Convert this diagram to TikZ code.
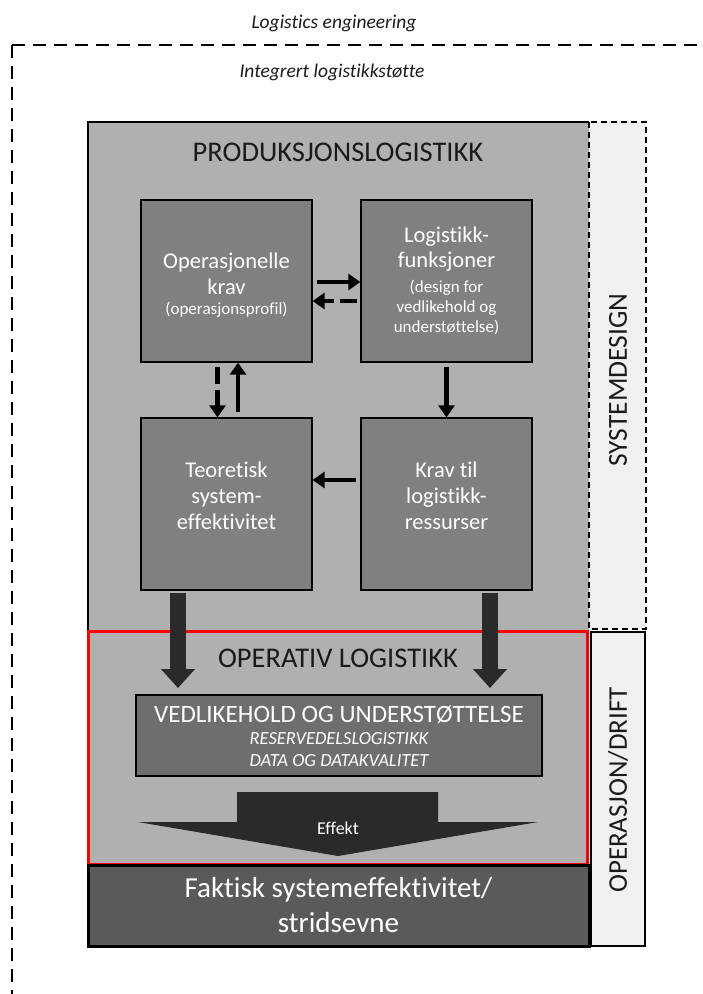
\documentclass[tikz,border=0pt]{standalone}
\usepackage{fontspec}
\setmainfont{Carlito}[Ligatures=CommonOff]
\usetikzlibrary{arrows.meta}
\definecolor{maingray}{HTML}{B0B0B0}
\definecolor{boxgray}{HTML}{808080}
\definecolor{vedgray}{HTML}{6E6E6E}
\definecolor{darkarr}{HTML}{2A2A2A}
\definecolor{faktgray}{HTML}{5A5A5A}
\definecolor{colgray}{HTML}{F0F0F0}
\definecolor{txtdark}{HTML}{1A1A1A}
\tikzset{
  inbox/.style={draw=black, line width=1.3pt, fill=boxgray,
    minimum width=171pt, inner sep=0pt},
  intext/.style={text=white, align=center, inner sep=0pt,
    font=\fontsize{22.5}{25.5}\selectfont},
  smalltext/.style={text=white, align=center, inner sep=0pt,
    font=\fontsize{17}{20}\selectfont},
  arr/.style={line width=4.5pt, -{Triangle[length=12pt,width=16pt]}},
  darr/.style={arr, dash pattern=on 17pt off 6pt},
  bigarr/.style={draw=darkarr, line width=16pt, -{Triangle[length=19pt,width=33pt]}},
  outerdash/.style={line width=1.6pt, dash pattern=on 13pt off 8pt},
}
\begin{document}
\begin{tikzpicture}[x=1pt,y=-1pt]
\useasboundingbox (0,0) rectangle (702,994);
% outer dashed frame
\draw[outerdash] (12,45) -- (702,45);
\draw[outerdash] (12,45) -- (12,994);
\node[font=\fontsize{19.5}{22}\selectfont\itshape, text=txtdark] (le) at (334,23) {Logistics engineering};
\node[font=\fontsize{19.5}{22}\selectfont\itshape, text=txtdark] (ils) at (332,72) {Integrert logistikkstøtte};
% main box
\fill[maingray] (88,122) rectangle (589,631);
\draw[line width=1.5pt] (589,122) -- (88,122) -- (88,631);
% systemdesign column
\draw[line width=1.3pt, dash pattern=on 6pt off 4pt, fill=colgray] (589,122) rectangle (646,629);
\node[rotate=90, font=\fontsize{27.5}{29}\selectfont, text=txtdark] (sd) at (618,380) {SYSTEMDESIGN};
% operasjon/drift column
\draw[line width=2.5pt, fill=colgray] (591,632) rectangle (645,946);
\node[rotate=90, font=\fontsize{27}{29}\selectfont, text=txtdark] (od) at (618,790) {OPERASJON/DRIFT};
% headings
\node[font=\fontsize{28.5}{30}\selectfont, text=txtdark] (pl) at (338,152) {PRODUKSJONSLOGISTIKK};
% inner boxes
\node[inbox, minimum height=162pt] (ok) at (226.5,281) {};
\node[inbox, minimum height=162pt] (lf) at (446.5,281) {};
\node[inbox, minimum height=172pt] (te) at (226.5,504) {};
\node[inbox, minimum height=172pt] (kr) at (446.5,504) {};
% texts in boxes
\node[intext] (okt) at (226.5,274) {Operasjonelle\\krav};
\node[smalltext] (oks) at (226.5,310) {(operasjonsprofil)};
\node[intext] (lft) at (446.5,249) {Logistikk-\\funksjoner};
\node[smalltext] (lfs) at (446.5,307) {(design for\\vedlikehold og\\understøttelse)};
\node[intext, font=\fontsize{22.5}{26}\selectfont] (tet) at (226.5,496) {Teoretisk\\system-\\effektivitet};
\node[intext, font=\fontsize{22.5}{26}\selectfont] (krt) at (446.5,496) {Krav til\\logistikk-\\ressurser};
% small arrows
\draw[arr, shorten <=4pt] ([yshift=-1pt]ok.east) -- ([yshift=-1pt]lf.west);
\draw[darr, shorten <=3pt] ([yshift=-20pt]lf.west) -- ([yshift=-20pt]ok.east);
\draw[darr, shorten <=4pt] ([xshift=-9pt]ok.south) -- ([xshift=-9pt]te.north);
\draw[arr, shorten <=5pt] ([xshift=11.5pt]te.north) -- ([xshift=11.5pt]ok.south);
\draw[arr, shorten <=4pt] (lf.south) -- (kr.north);
\draw[arr, shorten <=4pt] ([yshift=24pt]kr.west) -- ([yshift=24pt]te.east);
% operativ logistikk (red box)
\draw[red, line width=3pt, fill=maingray] (88,631) rectangle (587,864);
\node[font=\fontsize{28.5}{30}\selectfont, text=txtdark] (opl) at (338,658) {OPERATIV LOGISTIKK};
% big arrows
\coordinate (la1) at (178,593); \coordinate (la2) at (178,688);
\coordinate (ra1) at (490,593); \coordinate (ra2) at (490,688);
\draw[bigarr] (la1) -- (la2);
\draw[bigarr] (ra1) -- (ra2);
% vedlikehold box
\node[draw=black, line width=1.3pt, fill=vedgray,
  minimum width=406pt, minimum height=81pt, inner sep=0pt] (ved) at (339,735.5) {};
\node[text=white, inner sep=0pt, font=\fontsize{25}{27}\selectfont] (ved1) at (339,715) {VEDLIKEHOLD OG UNDERSTØTTELSE};
\node[text=white, inner sep=0pt, font=\fontsize{18.5}{22}\selectfont\itshape] (ved2) at (339,739) {RESERVEDELSLOGISTIKK};
\node[text=white, inner sep=0pt, font=\fontsize{18.5}{22}\selectfont\itshape] (ved3) at (339,761) {DATA OG DATAKVALITET};
% effekt arrow
\fill[darkarr] (237,792) -- (438,792) -- (438,822) -- (538,822) -- (338,856) -- (138,822) -- (237,822) -- cycle;
\node[text=white, font=\fontsize{18}{20}\selectfont] (eff) at (338,828) {Effekt};
% faktisk
\node[draw=black, line width=3pt, fill=faktgray, text=white, align=center,
  minimum width=501pt, minimum height=81pt, inner sep=0pt,
  font=\fontsize{29}{35}\selectfont] (fak) at (338.5,905.5) {Faktisk systemeffektivitet/\\stridsevne};
\end{tikzpicture}
\end{document}
